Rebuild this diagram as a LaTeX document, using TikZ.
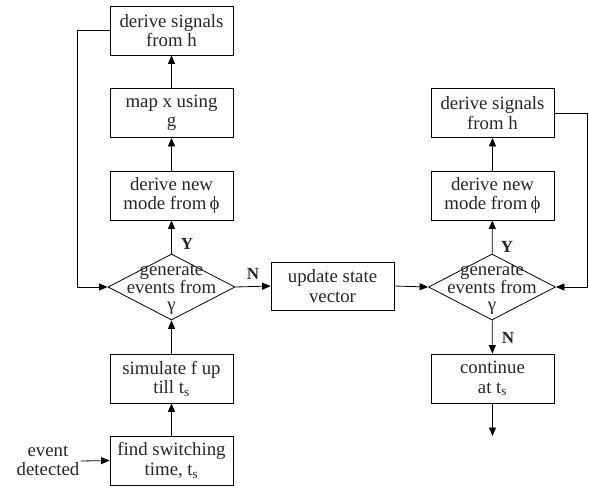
\documentclass[tikz,border=0pt]{standalone}
\usepackage{fontspec}
\setmainfont{Liberation Serif}
\usetikzlibrary{arrows.meta,shapes.geometric}
\begin{document}
\begin{tikzpicture}[x=1pt,y=-1pt,
  every node/.style={font=\fontsize{18.8}{19.5}\selectfont, text=black!85},
  box/.style={draw, line width=0.8pt, minimum width=123pt, minimum height=49pt, inner sep=0pt, align=center},
  dia/.style={draw, line width=0.8pt, shape=diamond, minimum width=127pt, minimum height=66pt, inner sep=0pt},
  diatext/.style={align=center, inner sep=0pt, font=\fontsize{18.8}{17.5}\selectfont},
  flag/.style={font=\fontsize{17}{17}\selectfont\bfseries, inner sep=0pt},
  conn/.style={line width=0.8pt, -{Triangle[length=8.5pt,width=7pt]}},
  plain/.style={line width=0.8pt}]
\useasboundingbox (0,0) rectangle (589,491);

% left column
\node[box] (sigL) at (171.5,30.5) {derive signals\\from h};
\node[box] (mapx) at (171.5,113) {map x using\\g};
\node[box] (modeL) at (171.5,195.5) {derive new\\mode from\,ϕ};
\node[dia] (genL) at (171.5,287) {};
\node[diatext] (genLt) at (171.5,290) {generate\\events from\\γ};
\node[box] (sim) at (171.5,378.5) {simulate f up\\till t\textsubscript{s}};
\node[box] (find) at (171.5,460.5) {find switching\\time, t\textsubscript{s}};
\node[align=center, inner sep=1pt] (evt) at (48,461) {event\\detected};

% middle
\node[box, minimum height=48pt] (upd) at (332.5,286) {update state\\vector};

% right column
\node[box] (sigR) at (492.5,113) {derive signals\\from h};
\node[box] (modeR) at (492.5,195.5) {derive new\\mode from\,ϕ};
\node[dia] (genR) at (492,287) {};
\node[diatext] (genRt) at (492,290) {generate\\events from\\γ};
\node[box] (cont) at (492.5,378.5) {continue\\at t\textsubscript{s}};
\coordinate (out) at (492.5,436);

% connectors
\draw[conn] (evt.east) -- (find.west);
\draw[conn] (find) -- (sim);
\draw[conn] (sim) -- (genL);
\draw[conn] (genL) -- (modeL);
\draw[conn] (modeL) -- (mapx);
\draw[conn] (mapx) -- (sigL);
\draw[conn] (sigL.west) -- (77,30.5) -- (77,287) -- (genL.west);
\draw[conn] (genL.east) -- (upd.west);
\draw[conn] (upd.east) -- (genR.west);
\draw[conn] (genR) -- (modeR);
\draw[conn] (modeR) -- (sigR);
\draw[conn] (sigR.east) -- (587,113) -- (587,287) -- (genR.east);
\draw[conn] (genR) -- (cont);
\draw[conn] (cont) -- (out);

% branch labels
\node[flag] (yL) at (187,244) {Y};
\node[flag] (nL) at (253,274) {N};
\node[flag] (yR) at (507,247) {Y};
\node[flag] (nR) at (508,338) {N};
\end{tikzpicture}
\end{document}
